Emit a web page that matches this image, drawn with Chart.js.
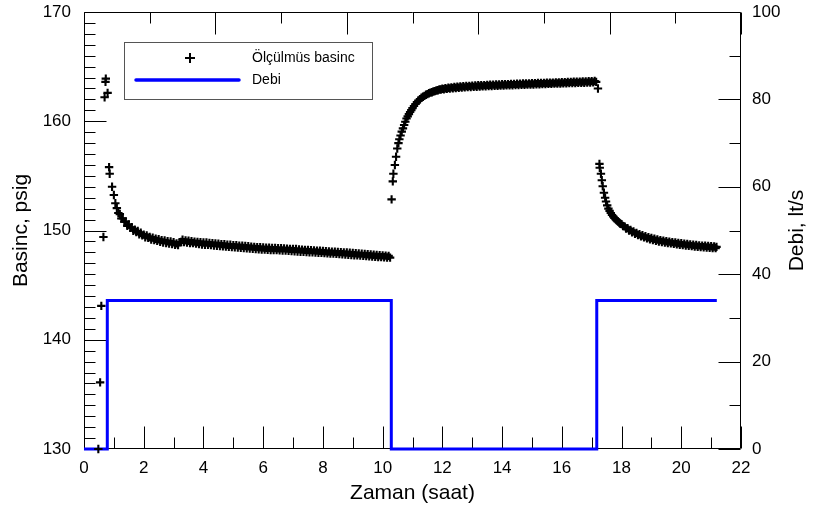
<!DOCTYPE html>
<html><head><meta charset="utf-8">
<script src="https://cdn.jsdelivr.net/npm/chart.js@4.4.0/dist/chart.umd.min.js"></script>
<style>html,body{margin:0;padding:0;background:#fff}canvas{display:block}</style>
</head><body>
<canvas id="c" width="818" height="510"></canvas>
<script>
// ---- data ----
const seriesLabels = ['Ölçülmüs basinc', 'Debi'];
const xTitle = 'Zaman (saat)';
const leftTitle = 'Basinc, psig';
const rightTitle = 'Debi, lt/s';
const xTickValues = [0, 2, 4, 6, 8, 10, 12, 14, 16, 18, 20, 22];
const leftTickValues = [130, 140, 150, 160, 170];
const rightTickValues = [0, 20, 40, 60, 80, 100];

// pressure before flow starts and first drawdown
const hoursA = [
  0.48, 0.54, 0.58, 0.65, 0.69, 0.72, 0.73, 0.79,
  0.84, 0.86, 0.94, 1.00, 1.05,
  1.10, 1.15, 1.20, 1.25, 1.30, 1.35, 1.40, 1.45, 1.50, 1.55,
  1.60, 1.65, 1.70, 1.75, 1.80, 1.85, 1.90, 1.95, 2.00, 2.05,
  2.10, 2.15, 2.20, 2.25, 2.30, 2.35, 2.40, 2.45, 2.50, 2.55,
  2.60, 2.65, 2.70, 2.75, 2.80, 2.85, 2.90, 2.95, 3.00, 3.05,
  3.10, 3.15, 3.20, 3.25, 3.30, 3.35, 3.40, 3.45, 3.50, 3.55,
  3.60, 3.65, 3.70, 3.75, 3.80, 3.85, 3.90, 3.95, 4.00, 4.05,
  4.10, 4.15, 4.20, 4.25, 4.30, 4.35, 4.40, 4.45, 4.50, 4.55,
  4.60, 4.65, 4.70, 4.75, 4.80, 4.85, 4.90, 4.95, 5.00, 5.05,
  5.10, 5.15, 5.20, 5.25, 5.30, 5.35, 5.40, 5.45, 5.50, 5.55,
  5.60, 5.65, 5.70, 5.75, 5.80, 5.85, 5.90, 5.95, 6.00, 6.05,
  6.10, 6.15, 6.20, 6.25, 6.30, 6.35, 6.40, 6.45, 6.50, 6.55,
  6.60, 6.65, 6.70, 6.75, 6.80, 6.85, 6.90, 6.95, 7.00, 7.05,
  7.10, 7.15, 7.20, 7.25, 7.30, 7.35, 7.40, 7.45, 7.50, 7.55,
  7.60, 7.65, 7.70, 7.75, 7.80, 7.85, 7.90, 7.95, 8.00, 8.05,
  8.10, 8.15, 8.20, 8.25, 8.30, 8.35, 8.40, 8.45, 8.50, 8.55,
  8.60, 8.65, 8.70, 8.75, 8.80, 8.85, 8.90, 8.95, 9.00, 9.05,
  9.10, 9.15, 9.20, 9.25, 9.30, 9.35, 9.40, 9.45, 9.50, 9.55,
  9.60, 9.65, 9.70, 9.75, 9.80, 9.85, 9.90, 9.95, 10.00, 10.05,
  10.10, 10.15, 10.20, 10.25
];
const psigA = [
  130.0, 136.1, 143.1, 149.4, 162.2, 163.6, 163.9, 162.6,
  155.8, 155.2, 154.0, 153.25, 152.5,
  152.05, 151.6, 151.5, 151.1, 151.1, 150.8, 150.82, 150.42, 150.55, 150.25,
  150.3, 149.98, 150.08, 149.86, 149.95, 149.66, 149.8, 149.55, 149.62, 149.38,
  149.55, 149.33, 149.4, 149.18, 149.35, 149.12, 149.25, 149.05, 149.2, 148.97,
  149.12, 148.9, 149.1, 148.86, 149.02, 148.8, 149.0, 148.76, 148.92, 148.7,
  148.82, 148.66, 148.92, 148.95, 149.15, 148.94, 149.1, 148.9, 149.06, 148.86,
  149.02, 148.84, 148.98, 148.8, 148.95, 148.76, 148.94, 148.72, 148.9, 148.7,
  148.9, 148.68, 148.85, 148.66, 148.84, 148.63, 148.82, 148.6, 148.8, 148.58,
  148.75, 148.56, 148.74, 148.53, 148.7, 148.5, 148.7, 148.48, 148.66, 148.46,
  148.66, 148.44, 148.62, 148.42, 148.6, 148.4, 148.58, 148.37, 148.56, 148.35,
  148.52, 148.33, 148.5, 148.3, 148.48, 148.28, 148.46, 148.26, 148.44, 148.25,
  148.42, 148.24, 148.42, 148.22, 148.4, 148.2, 148.4, 148.2, 148.38, 148.18,
  148.37, 148.17, 148.36, 148.16, 148.34, 148.14, 148.32, 148.12, 148.3, 148.1,
  148.3, 148.08, 148.27, 148.06, 148.25, 148.05, 148.23, 148.03, 148.22, 148.01,
  148.2, 148.0, 148.18, 147.98, 148.16, 147.96, 148.14, 147.95, 148.12, 147.93,
  148.1, 147.91, 148.08, 147.9, 148.07, 147.88, 148.05, 147.86, 148.03, 147.84,
  148.02, 147.82, 148.0, 147.8, 147.98, 147.78, 147.96, 147.76, 147.94, 147.74,
  147.92, 147.72, 147.9, 147.7, 147.88, 147.68, 147.85, 147.66, 147.83, 147.64,
  147.8, 147.62, 147.78, 147.6, 147.76, 147.58, 147.74, 147.56, 147.72, 147.55,
  147.7, 147.53, 147.68, 147.52
];

// build-up while the flow is stopped
const hoursB = [
  10.30, 10.34, 10.36, 10.41, 10.45, 10.49, 10.53, 10.56, 10.60, 10.64,
  10.68, 10.72, 10.76, 10.80, 10.84, 10.88, 10.92, 10.96, 11.00, 11.05,
  11.10, 11.15, 11.20, 11.25, 11.30, 11.35, 11.40, 11.45, 11.50, 11.55,
  11.60, 11.65, 11.70, 11.75, 11.80, 11.85, 11.90, 11.95, 12.00, 12.05,
  12.10, 12.15, 12.20, 12.25, 12.30, 12.35, 12.40, 12.45, 12.50, 12.55,
  12.60, 12.65, 12.70, 12.75, 12.80, 12.85, 12.90, 12.95, 13.00, 13.05,
  13.10, 13.15, 13.20, 13.25, 13.30, 13.35, 13.40, 13.45, 13.50, 13.55,
  13.60, 13.65, 13.70, 13.75, 13.80, 13.85, 13.90, 13.95, 14.00, 14.05,
  14.10, 14.15, 14.20, 14.25, 14.30, 14.35, 14.40, 14.45, 14.50, 14.55,
  14.60, 14.65, 14.70, 14.75, 14.80, 14.85, 14.90, 14.95, 15.00, 15.05,
  15.10, 15.15, 15.20, 15.25, 15.30, 15.35, 15.40, 15.45, 15.50, 15.55,
  15.60, 15.65, 15.70, 15.75, 15.80, 15.85, 15.90, 15.95, 16.00, 16.05,
  16.10, 16.15, 16.20, 16.25, 16.30, 16.35, 16.40, 16.45, 16.50, 16.55,
  16.60, 16.65, 16.70, 16.75, 16.80, 16.85, 16.90, 16.95, 17.00, 17.05,
  17.10, 17.15, 17.21
];
const psigB = [
  152.85, 154.5, 155.2, 156.0, 156.75, 157.5, 158.0, 158.35, 158.7, 159.05,
  159.35, 159.65, 159.95, 160.25, 160.45, 160.65, 160.85, 161.02, 161.2, 161.4,
  161.58, 161.75, 161.9, 162.02, 162.15, 162.24, 162.32, 162.42, 162.48, 162.56,
  162.62, 162.66, 162.72, 162.76, 162.82, 162.84, 162.9, 162.9, 162.97, 162.93,
  163.02, 162.96, 163.07, 163.0, 163.1, 163.02, 163.13, 163.05, 163.16, 163.07,
  163.18, 163.09, 163.2, 163.1, 163.22, 163.12, 163.24, 163.13, 163.26, 163.15,
  163.27, 163.16, 163.29, 163.18, 163.3, 163.19, 163.31, 163.2, 163.33, 163.22,
  163.34, 163.23, 163.35, 163.24, 163.36, 163.25, 163.37, 163.26, 163.38, 163.27,
  163.39, 163.28, 163.4, 163.29, 163.41, 163.3, 163.42, 163.31, 163.43, 163.32,
  163.44, 163.33, 163.45, 163.34, 163.46, 163.35, 163.47, 163.36, 163.48, 163.37,
  163.49, 163.38, 163.5, 163.39, 163.5, 163.4, 163.51, 163.41, 163.52, 163.42,
  163.53, 163.43, 163.54, 163.44, 163.55, 163.45, 163.56, 163.46, 163.57, 163.47,
  163.58, 163.48, 163.59, 163.49, 163.6, 163.5, 163.61, 163.5, 163.62, 163.51,
  163.63, 163.52, 163.64, 163.53, 163.65, 163.54, 163.66, 163.55, 163.67, 163.56,
  163.68, 163.6, 163.0
];

// second drawdown after the flow restarts
const hoursC = [
  17.26, 17.27, 17.31, 17.34, 17.37, 17.41, 17.45, 17.48, 17.52, 17.56,
  17.60, 17.64, 17.68, 17.72, 17.76, 17.80, 17.84, 17.88, 17.92, 17.96,
  18.00, 18.05, 18.10, 18.15, 18.20, 18.25, 18.30, 18.35, 18.40, 18.45,
  18.50, 18.55, 18.60, 18.65, 18.70, 18.75, 18.80, 18.85, 18.90, 18.95,
  19.00, 19.05, 19.10, 19.15, 19.20, 19.25, 19.30, 19.35, 19.40, 19.45,
  19.50, 19.55, 19.60, 19.65, 19.70, 19.75, 19.80, 19.85, 19.90, 19.95,
  20.00, 20.05, 20.10, 20.15, 20.20, 20.25, 20.30, 20.35, 20.40, 20.45,
  20.50, 20.55, 20.60, 20.65, 20.70, 20.75, 20.80, 20.85, 20.90, 20.95,
  21.00, 21.05, 21.10, 21.15, 21.18
];
const psigC = [
  156.1, 155.75, 155.2, 154.6, 154.05, 153.45, 153.0, 152.65, 152.3, 152.0,
  151.8, 151.6, 151.42, 151.28, 151.15, 151.04, 150.93, 150.82, 150.72, 150.62,
  150.58, 150.4, 150.38, 150.18, 150.22, 150.0, 150.05, 149.84, 149.92, 149.7,
  149.78, 149.58, 149.66, 149.46, 149.56, 149.37, 149.47, 149.28, 149.38, 149.2,
  149.31, 149.13, 149.24, 149.06, 149.18, 149.0, 149.12, 148.95, 149.07, 148.9,
  149.02, 148.86, 148.98, 148.82, 148.94, 148.78, 148.9, 148.74, 148.86, 148.7,
  148.83, 148.66, 148.8, 148.63, 148.76, 148.6, 148.73, 148.57, 148.7, 148.54,
  148.67, 148.51, 148.64, 148.48, 148.62, 148.46, 148.6, 148.44, 148.58, 148.42,
  148.56, 148.4, 148.54, 148.39, 148.5
];

const flowHours = [0, 0.78, 0.78, 10.29, 10.29, 17.17, 17.17, 21.19];
const flowLps   = [0, 0, 34, 34, 0, 0, 34, 34];

// ---- chart ----
const FONT = '"Liberation Sans", Arial, Helvetica, sans-serif';
const pressureHours = hoursA.concat(hoursB, hoursC);
const pressurePsig = psigA.concat(psigB, psigC);

const frameTicks = {
  id: 'frameTicks',
  beforeDatasetsDraw(chart) {
    const {ctx, chartArea: a, scales: {x, y, y1}} = chart;
    const L = Math.round(a.left) + 0.5, R = Math.round(a.right) - 0.5;
    const T = Math.round(a.top) + 0.5, B = Math.round(a.bottom) - 0.5;
    ctx.save();
    ctx.strokeStyle = '#000';
    ctx.lineWidth = 1;
    ctx.beginPath();
    ctx.rect(L, T, R - L, B - T);
    for (let h = 0; h <= 22; h++) {
      const px = Math.round(x.getPixelForValue(h)) + 0.5;
      const len = h % 2 === 0 ? 22 : 11;
      ctx.moveTo(px, B); ctx.lineTo(px, B - len);
    }
    for (let i = 0; i <= 10; i++) {
      const px = Math.round(x.getPixelForValue(22 * i / 10)) + 0.5;
      const len = i % 2 === 0 ? 22 : 11;
      ctx.moveTo(px, T); ctx.lineTo(px, T + len);
    }
    for (let p = 130; p <= 170; p++) {
      const py = Math.round(y.getPixelForValue(p)) + 0.5;
      const len = p % 10 === 0 ? 22 : 11;
      ctx.moveTo(L, py); ctx.lineTo(L + len, py);
    }
    for (let d = 0; d <= 100; d += 10) {
      const py = Math.round(y1.getPixelForValue(d)) + 0.5;
      const len = d % 20 === 0 ? 22 : 11;
      ctx.moveTo(R, py); ctx.lineTo(R - len, py);
    }
    ctx.stroke();
    ctx.restore();
  }
};

const legendAndTitle = {
  id: 'legendAndTitle',
  afterDraw(chart) {
    const {ctx, chartArea: a} = chart;
    const ds = chart.data.datasets;
    ctx.save();
    // right axis title, reading bottom-to-top
    ctx.fillStyle = '#000';
    ctx.font = '21px ' + FONT;
    ctx.textAlign = 'center';
    ctx.textBaseline = 'middle';
    ctx.translate(797, (a.top + a.bottom) / 2);
    ctx.rotate(-Math.PI / 2);
    ctx.fillText(rightTitle, 0, 0);
    ctx.restore();

    ctx.save();
    const bx = Math.round(a.left) + 40.5, by = Math.round(a.top) + 30.5, bw = 248, bh = 57;
    ctx.fillStyle = '#fff';
    ctx.fillRect(bx, by, bw, bh);
    ctx.strokeStyle = '#555';
    ctx.lineWidth = 1;
    ctx.strokeRect(bx, by, bw, bh);
    const mx = a.left + 106, my = a.top + 46;
    ctx.strokeStyle = '#000';
    ctx.lineWidth = 2;
    ctx.beginPath();
    ctx.moveTo(mx - 5, my); ctx.lineTo(mx + 5, my);
    ctx.moveTo(mx, my - 5); ctx.lineTo(mx, my + 5);
    ctx.stroke();
    ctx.strokeStyle = ds[1].borderColor;
    ctx.lineWidth = 3.5;
    ctx.lineCap = 'round';
    ctx.beginPath();
    ctx.moveTo(a.left + 52, a.top + 68); ctx.lineTo(a.left + 155, a.top + 68);
    ctx.stroke();
    ctx.fillStyle = '#000';
    ctx.font = '14px ' + FONT;
    ctx.textBaseline = 'middle';
    ctx.textAlign = 'left';
    ctx.fillText(ds[0].label, a.left + 168, a.top + 46);
    ctx.fillText(ds[1].label, a.left + 168, a.top + 68);
    ctx.restore();
  }
};

const tickFont = {family: FONT, size: 17};
const titleFont = {family: FONT, size: 21};

new Chart(document.getElementById('c'), {
  type: 'scatter',
  data: {
    datasets: [
      {
        label: seriesLabels[0],
        data: pressureHours.map((h, i) => ({x: h, y: pressurePsig[i]})),
        yAxisID: 'y',
        showLine: false,
        pointStyle: 'cross',
        pointRadius: 4.2,
        pointBorderWidth: 2.1,
        borderColor: '#000',
        backgroundColor: '#000',
        clip: 6
      },
      {
        label: seriesLabels[1],
        data: flowHours.map((h, i) => ({x: h, y: flowLps[i]})),
        yAxisID: 'y1',
        showLine: true,
        borderColor: '#0000ff',
        backgroundColor: '#0000ff',
        borderWidth: 3,
        pointRadius: 0,
        fill: false,
        clip: 4
      }
    ]
  },
  options: {
    responsive: false,
    animation: false,
    devicePixelRatio: 1,
    layout: {padding: {top: 12, left: 0, right: 0, bottom: 0}},
    plugins: {legend: {display: false}, tooltip: {enabled: false}},
    scales: {
      x: {
        type: 'linear', position: 'bottom', min: 0, max: 22,
        afterBuildTicks: s => { s.ticks = xTickValues.map(v => ({value: v})); },
        afterFit: s => { s.height = 61; s.paddingLeft = 0; s.paddingRight = 0; },
        grid: {display: false, drawTicks: false},
        border: {display: false},
        ticks: {padding: 9, color: '#000', font: tickFont, maxRotation: 0, autoSkip: false},
        title: {display: true, text: xTitle, color: '#000', font: titleFont, padding: {top: 0, bottom: 4}}
      },
      y: {
        type: 'linear', position: 'left', min: 130, max: 170,
        afterBuildTicks: s => { s.ticks = leftTickValues.map(v => ({value: v})); },
        afterFit: s => { s.width = 84; s.paddingTop = 0; s.paddingBottom = 0; },
        grid: {display: false, drawTicks: false},
        border: {display: false},
        ticks: {padding: 13, color: '#000', font: tickFont, autoSkip: false},
        title: {display: true, text: leftTitle, color: '#000', font: titleFont, padding: {top: 9, bottom: 0}}
      },
      y1: {
        type: 'linear', position: 'right', min: 0, max: 100,
        afterBuildTicks: s => { s.ticks = rightTickValues.map(v => ({value: v})); },
        afterFit: s => { s.width = 77; s.paddingTop = 0; s.paddingBottom = 0; },
        grid: {display: false, drawTicks: false},
        border: {display: false},
        ticks: {padding: 11, color: '#000', font: tickFont, autoSkip: false},
        title: {display: false}
      }
    }
  },
  plugins: [frameTicks, legendAndTitle]
});
</script>
</body></html>
